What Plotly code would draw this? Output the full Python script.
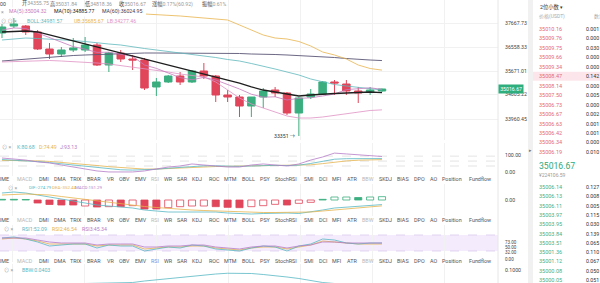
import plotly.graph_objects as go

W, H = 600, 283
FONT = "Roboto, 'Noto Sans CJK SC', sans-serif"

# ---------------- data ----------------
idx = list(range(33))
opens  = [37001, 37249, 37249, 37037, 36434, 36257, 36399, 36399, 36576, 35867, 36293, 36080, 36044, 35088, 35265, 35477, 35265,
          35655, 35477, 34804, 34733, 34414, 34733, 34981, 34875, 34166, 34733, 34839, 35265, 35194, 34946, 34910, 34946]
highs  = [37320, 37533, 37285, 37108, 36647, 36505, 36824, 36860, 36647, 36328, 36399, 36222, 36115, 35407, 35513, 35619, 35690,
          35938, 35513, 34981, 34804, 34733, 35052, 35088, 34910, 34733, 35017, 35300, 35336, 35336, 35088, 35088, 35031.84]
lows   = [36824, 37178, 36930, 36399, 36080, 36151, 36328, 36328, 35832, 35619, 35974, 35690, 34981, 34769, 35229, 35158, 35229,
          35371, 34556, 34556, 34024, 34024, 34343, 34733, 34095, 33351, 34662, 34804, 34804, 34804, 34520, 34804, 34910]
closes = [37214, 37320, 37037, 36434, 36257, 36399, 36470, 36576, 35867, 36293, 36080, 36044, 35052, 35265, 35477, 35265, 35655,
          35477, 34804, 34733, 34414, 34733, 34946, 34875, 34166, 34698, 34839, 35265, 35229, 34946, 34875, 34981, 35016.67]

ma5  = [37108, 37179, 37161, 37001, 36852, 36689, 36519, 36427, 36314, 36321, 36257, 36172, 35867, 35747, 35584, 35421, 35343,
        35428, 35336, 35187, 35017, 34832, 34726, 34740, 34627, 34684, 34705, 34769, 34839, 34995, 35031, 35059, 35004.32]
ma10 = [37037, 37054, 37072, 37037, 36930, 36824, 36718, 36611, 36505, 36399, 36292, 36186, 36080, 35974, 35867, 35761, 35655,
        35548, 35442, 35336, 35229, 35088, 34981, 34910, 34839, 34769, 34804, 34839, 34857, 34875, 34893, 34910, 34885.77]
ma60 = [36009, 36044, 36080, 36115, 36133, 36168, 36204, 36222, 36239, 36257, 36275, 36292, 36292, 36292, 36292, 36292, 36292,
        36275, 36275, 36275, 36275, 36257, 36257, 36239, 36222, 36204, 36186, 36151, 36133, 36097, 36062, 36044, 36024.95]
boll_mid = [36753, 36789, 36824, 36806, 36789, 36771, 36735, 36700, 36647, 36611, 36576, 36505, 36452, 36399, 36346, 36310, 36257,
            36204, 36133, 36062, 36009, 35920, 35831, 35725, 35619, 35513, 35371, 35265, 35176, 35123, 35070, 35017, 34981.57]
boll_ub = [37710, 37746, 37781, 37781, 37781, 37763, 37746, 37728, 37710, 37692, 37675, 37675, 37675, 37657, 37639, 37604, 37568,
           37533, 37497, 37462, 37285, 37108, 36930, 36824, 36789, 36700, 36541, 36328, 36222, 36080, 35867, 35743, 35685.67]
boll_lb = [35974, 35991, 36009, 36027, 36027, 36009, 35991, 35974, 35938, 35903, 35850, 35796, 35743, 35690, 35619, 35548, 35495,
           35442, 35265, 34981, 34698, 34485, 34343, 34202, 34060, 33989, 33989, 34024, 34078, 34131, 34202, 34255, 34277.46]
low_label = "33351 →"
last_price = 35016.67

price_tickvals = [37355.7, 36505.1, 35654.6, 34839.4, 33953.4]
price_ticktext = ["37667.73", "36558.33", "35671.01", "34605.22", "33960.45"]

kdj_k = [75, 72, 68, 63, 57, 50, 42, 34, 26, 19, 15, 13, 14, 18, 24, 29, 35, 38, 38, 36, 35, 37, 40, 41, 40, 42, 52, 64, 77, 80, 81, 81, 80.68]
kdj_d = [70, 70, 69, 67, 64, 59, 54, 47, 40, 33, 27, 22, 19, 19, 21, 24, 28, 31, 34, 35, 35, 36, 37, 38, 39, 40, 44, 51, 60, 67, 71, 73, 74.49]
kdj_j = [84, 78, 72, 61, 55, 43, 31, 19, 8, 2, 2, 2, 8, 19, 31, 37, 49, 43, 37, 31, 31, 43, 49, 43, 37, 49, 72, 90, 113, 108, 102, 96, 93.13]
kdj_levels = [95, 66, 37]

macd_dif = [420, 480, 420, 300, 180, 60, -60, -180, -300, -360, -420, -480, -600, -660, -720, -720, -720, -720, -720, -780, -810,
            -840, -810, -780, -780, -810, -720, -600, -480, -420, -360, -300, -274.79]
macd_dea = [300, 330, 360, 330, 300, 210, 120, 30, -60, -150, -240, -300, -390, -450, -510, -570, -600, -630, -660, -690, -720,
            -750, -750, -750, -750, -750, -720, -660, -600, -540, -450, -390, -352.44]
macd_hist = [40, 40, 30, -180, -270, -300, -300, -360, -420, -400, -400, -340, -540, -540, -460, -400, -360, -360, -400, -440,
             -460, -400, -340, -260, -300, -200, -140, 40, 180, 180, 150, 180, 200]
macd_filled = [1, 1, 1, 1, 1, 1, 1, 0, 1, 0, 1, 0, 1, 1, 0, 0, 0, 0, 1, 1, 1, 0, 0, 0, 1, 0, 0, 1, 0, 0, 1, 0, 0]

rsi1 = [89.4, 93.5, 85.3, 73.0, 56.6, 60.7, 64.8, 64.8, 48.4, 60.7, 56.6, 56.6, 36.1, 44.3, 52.5, 48.4, 60.7, 56.6, 44.3, 40.2,
        36.1, 48.4, 56.6, 52.5, 36.1, 56.6, 64.8, 85.3, 81.2, 68.9, 64.8, 68.9, 68.9]
rsi2 = [85.3, 89.4, 85.3, 77.1, 64.8, 64.8, 64.8, 64.8, 56.6, 60.7, 60.7, 60.7, 44.3, 48.4, 52.5, 52.5, 56.6, 56.6, 48.4, 44.3,
        40.2, 48.4, 52.5, 52.5, 44.3, 52.5, 60.7, 77.1, 73.0, 68.9, 64.8, 64.8, 64.8]
rsi3 = [89.4, 89.4, 89.4, 81.2, 73.0, 68.9, 68.9, 68.9, 60.7, 64.8, 64.8, 64.8, 52.5, 52.5, 56.6, 56.6, 60.7, 60.7, 52.5, 48.4,
        44.3, 52.5, 56.6, 56.6, 48.4, 56.6, 60.7, 73.0, 73.0, 68.9, 68.9, 68.9, 68.9]
rsi_band = [36.1, 101.7]

bbw = [0.046, 0.045, 0.044, 0.043, 0.043, 0.044, 0.045, 0.046, 0.047, 0.047, 0.047, 0.050, 0.056, 0.061, 0.066, 0.071, 0.076,
       0.080, 0.084, 0.087, 0.088, 0.086, 0.082, 0.078, 0.072, 0.066, 0.058, 0.050, 0.046, 0.043, 0.041, 0.040, 0.0403]

top_labels = ["开", "高", "低", "收", "涨幅", "振幅"]
top_values = ["34355.75", "35031.84", "34818.36", "35016.67", "0.17%(60.92)", "0.61%"]
ma_texts = ["MA(5):35004.32", "MA(10):34885.77", "MA(60):36024.95"]
boll_texts = ["BOLL:34981.57", "UB:35685.67", "LB:34277.46"]
kdj_texts = ["K:80.68", "D:74.49", "J:93.13"]
macd_texts = ["DIF:-274.79", "DEA:-352.44", "MACD:151.29"]
rsi_texts = ["RSI1:52.09", "RSI2:46.54", "RSI3:45.34"]
bbw_text = "BBW:0.0403"

tabs = ["VOLUME", "MACD", "DMI", "DMA", "TRIX", "BRAR", "VR", "OBV", "EMV", "RSI", "WR", "SAR", "KDJ", "ROC", "MTM", "BOLL",
        "PSY", "StochRSI", "SMI", "DCI", "MFI", "ATR", "BBW", "SKDJ", "BIAS", "DPO", "AO", "Position", "Fundflow"]

ask_prices = ["35010.16", "35009.76", "35009.75", "35009.66", "35009.34", "35008.47", "35008.14", "35007.50", "35006.73",
              "35006.67", "35006.63", "35006.42", "35006.34", "35006.19"]
ask_qty = ["0.001", "0.000", "0.030", "0.000", "0.000", "0.142", "0.000", "0.005", "0.000", "0.002", "0.001", "0.001", "0.000", "0.010"]
bid_prices = ["35006.14", "35006.13", "35006.11", "35003.97", "35003.95", "35003.84", "35003.51", "35001.36", "35001.12",
              "35000.08", "35000.05"]
bid_qty = ["0.127", "0.008", "0.005", "0.115", "0.030", "0.139", "0.065", "0.110", "0.067", "0.050", "0.051"]
book_price = "35016.67"
book_cny = "¥224106.59"
highlight_ask = 5

# ---------------- style ----------------
GREEN, RED = "#3aae7e", "#e0455a"
C_MA5, C_MA10, C_MA60 = "#c47bbd", "#1f1f1f", "#5b5676"
C_MID, C_UB, C_LB = "#5fb8bd", "#e8b44c", "#df92c4"
C_K, C_D, C_J = "#58b8c4", "#e6b44e", "#b57cc8"
FS = 5.2


def px(x):
    return x / W


def py(y):
    return 1 - y / H


fig = go.Figure()
fig.add_trace(go.Candlestick(x=idx, open=opens, high=highs, low=lows, close=closes,
                             increasing=dict(line=dict(color=GREEN, width=1), fillcolor=GREEN),
                             decreasing=dict(line=dict(color=RED, width=1), fillcolor=RED),
                             whiskerwidth=0, hoverinfo="skip", xaxis="x", yaxis="y"))
for s, c, w in [(ma60, C_MA60, 0.9), (boll_lb, C_LB, 0.8), (boll_mid, C_MID, 0.8), (boll_ub, C_UB, 0.8),
                (ma5, C_MA5, 0.8), (ma10, C_MA10, 1.3)]:
    fig.add_trace(go.Scatter(x=idx, y=s, mode="lines", line=dict(color=c, width=w), hoverinfo="skip", xaxis="x", yaxis="y"))

for s, c in [(kdj_d, C_D), (kdj_k, C_K), (kdj_j, C_J)]:
    fig.add_trace(go.Scatter(x=idx, y=s, mode="lines", line=dict(color=c, width=0.8), hoverinfo="skip", xaxis="x", yaxis="y2"))

bar_line = [GREEN if v >= 0 else RED for v in macd_hist]
bar_fill = [(GREEN if v >= 0 else RED) if f else "white" for v, f in zip(macd_hist, macd_filled)]
fig.add_trace(go.Bar(x=idx, y=macd_hist, width=0.6, marker=dict(color=bar_fill, line=dict(color=bar_line, width=0.8)),
                     hoverinfo="skip", xaxis="x", yaxis="y3"))
for s, c in [(macd_dif, C_K), (macd_dea, C_D)]:
    fig.add_trace(go.Scatter(x=idx, y=s, mode="lines", line=dict(color=c, width=0.8), hoverinfo="skip", xaxis="x", yaxis="y3"))

for s, c in [(rsi2, C_D), (rsi1, C_K), (rsi3, C_J)]:
    fig.add_trace(go.Scatter(x=idx, y=s, mode="lines", line=dict(color=c, width=0.8), hoverinfo="skip", xaxis="x", yaxis="y4"))

fig.add_trace(go.Scatter(x=idx, y=bbw, mode="lines", line=dict(color=C_K, width=0.8), hoverinfo="skip", xaxis="x", yaxis="y5"))


def yax(top, bottom, rng, tv, tt, grid=False, size=FS):
    return dict(domain=[py(bottom), py(top)], range=rng, side="right", anchor="x", tickvals=tv, ticktext=tt,
                showgrid=grid, gridcolor="#f1f1f1", gridwidth=0.8, zeroline=False, showline=False, ticks="outside",
                ticklen=5, tickcolor="rgba(0,0,0,0)", tickfont=dict(family=FONT, size=size, color="#444"), fixedrange=True)


layout = dict(
    width=W, height=H, margin=dict(l=0, r=0, t=0, b=0), paper_bgcolor="white", plot_bgcolor="white",
    showlegend=False, hovermode=False, boxgap=0.37, boxgroupgap=0, barmode="overlay",
    font=dict(family=FONT, size=FS, color="#444"),
    xaxis=dict(domain=[0, px(498)], range=[-0.168, 41.77], showticklabels=False, ticks="", zeroline=False,
               showline=False, showgrid=True, gridcolor="#f1f1f1", gridwidth=0.8, tick0=0.926, dtick=6.063,
               anchor="y", fixedrange=True, rangeslider=dict(visible=False)),
    yaxis=yax(0, 140, [33209.2, 38170.8], price_tickvals, price_ticktext, grid=True),
    yaxis2=yax(143, 176, [-21.8, 172.4], [100, 0], ["100.00", "0.00"]),
    yaxis3=yax(184, 216, [-960, 960], [0], ["0.00"]),
    yaxis4=yax(225, 262, [-9.0, 142.7], [73, 50, 32, 0], ["73.00", "50.00", "32.00", "0.00"], size=4.5),
    yaxis5=yax(264, 283, [0.048, 0.124], [0.1], ["0.1000"]),
)
fig.update_layout(**layout)

shapes = []
# right separators / order book strip
shapes.append(dict(type="line", xref="paper", yref="paper", x0=px(498), x1=px(498), y0=0, y1=1,
                   line=dict(color="#e6e6e6", width=1)))
shapes.append(dict(type="rect", xref="paper", yref="paper", x0=px(528), x1=px(533), y0=0, y1=1,
                   fillcolor="#f1f1f1", line=dict(width=0)))
hy = 29 + 9.45 * highlight_ask
shapes.append(dict(type="rect", xref="paper", yref="paper", x0=px(533), x1=1, y0=py(hy + 4.5), y1=py(hy - 4.5),
                   fillcolor="#fce6eb", line=dict(width=0), layer="below"))
# label background covering lines under the MA row
shapes.append(dict(type="rect", xref="paper", yref="paper", x0=0, x1=px(146), y0=py(16.5), y1=py(7.5),
                   fillcolor="white", line=dict(width=0), layer="above"))
# RSI band
shapes.append(dict(type="rect", xref="paper", yref="y4", x0=0, x1=px(498), y0=rsi_band[0], y1=rsi_band[1],
                   fillcolor="#f4ebfc", line=dict(width=0), layer="below"))
for v in rsi_band:
    shapes.append(dict(type="line", xref="paper", yref="y4", x0=0, x1=px(498), y0=v, y1=v,
                       line=dict(color="#d6c4ec", width=0.7, dash="dash"), layer="below"))
for v in kdj_levels:
    shapes.append(dict(type="line", xref="paper", yref="y2", x0=0, x1=px(498), y0=v, y1=v,
                       line=dict(color="#d2d2d2", width=0.6, dash="dash"), layer="below"))

ann = []


def T(x, y, text, color="#444", size=FS, xanchor="left", **kw):
    ann.append(dict(x=px(x), y=py(y), xref="paper", yref="paper", text=text, showarrow=False, xanchor=xanchor,
                    yanchor="middle", font=dict(family=FONT, size=size, color=color), **kw))


# top info row
T(8, 4, "07:00", "#444", xanchor="right")
for lab, val, x in zip(top_labels, top_values, [20, 48, 83, 117, 150, 200]):
    T(x, 4, f"{lab}<span style='color:#9a9a9a'>{val}</span>", "#444")
# MA row
T(-1, 12, "×", "#999")
for t, x, c in zip(ma_texts, [7, 52, 100], [C_MA5, "#222", "#3f3b52"]):
    T(x, 12, t, c)
# BOLL row
T(-1, 21, "⊙ ⊙ ×", "#999")
for t, x, c in zip(boll_texts, [25, 72, 105], [C_MID, C_UB, C_LB]):
    T(x, 21, t, c)
# KDJ row
T(0, 147, "⊙ ×", "#999")
for t, x, c in zip(kdj_texts, [15, 37, 58], [C_K, C_D, C_J]):
    T(x, 147, t, c)
# MACD row
T(6, 188, "⊙ ×", "#999")
for t, x, c in zip(macd_texts, [27, 50, 73], [C_K, C_D, C_J]):
    T(x, 188, t, c, size=4.4)
# RSI row
T(2, 229, "⊙ ×", "#999")
for t, x, c in zip(rsi_texts, [20, 50, 80], [C_K, C_D, C_J]):
    T(x, 229, t, c)
# BBW row
T(2, 270, "⊙ ×", "#999")
T(20, 270, bbw_text, C_K)

# indicator tab rows
tab_x = [10.5, 15, 37, 52, 68, 85, 105, 117, 133, 149, 162, 175, 190, 207, 222, 240, 258, 273, 302, 317, 330, 345, 360,
         377, 395, 412, 428, 440, 467]
for r, ry in enumerate([179, 220, 261]):
    for name, x in zip(tabs, tab_x):
        col = "#555"
        if name in ("MACD", "BBW"):
            col = "#b8b8b8"
        if name == "RSI":
            col = "#6f94e8" if r == 2 else "#b8b8b8"
        T(x, ry, name, col, size=5.4, xanchor="right" if name == "VOLUME" else "left")

# low label and price tag
ann.append(dict(x=idx[lows.index(min(lows))], y=min(lows), xref="x", yref="y", text=low_label, showarrow=False,
                xanchor="right", yanchor="middle", xshift=-2, font=dict(family=FONT, size=FS, color="#333")))
ann.append(dict(x=px(498), y=last_price, xref="paper", yref="y", text=f"{last_price:.2f}", showarrow=False,
                xanchor="left", yanchor="middle", bgcolor="#2fae7d", borderpad=1.2,
                font=dict(family=FONT, size=FS, color="white")))

# order book
T(538, 7, "2位小数 ▾", "#333", size=5.3)
T(537, 17, "价格(USDT)", "#aaa", size=5.0)
T(592, 17, "数量", "#aaa", size=5.0)
for k, (p, q) in enumerate(zip(ask_prices, ask_qty)):
    y = 29 + 9.45 * k
    T(537, y, p, "#e36a7b", size=5.5)
    T(584, y, q, "#333", size=5.3)
T(537, 166, book_price, "#2fa878", size=8.6)
T(537, 175, book_cny, "#999", size=5.0)
for k, (p, q) in enumerate(zip(bid_prices, bid_qty)):
    y = 187 + 9.3 * k
    T(537, y, p, "#45b089", size=5.5)
    T(584, y, q, "#333", size=5.3)
T(530, 150, "▸", "#777", size=5, xanchor="center")

fig.update_layout(shapes=shapes, annotations=ann)
fig.write_html("out.html")
